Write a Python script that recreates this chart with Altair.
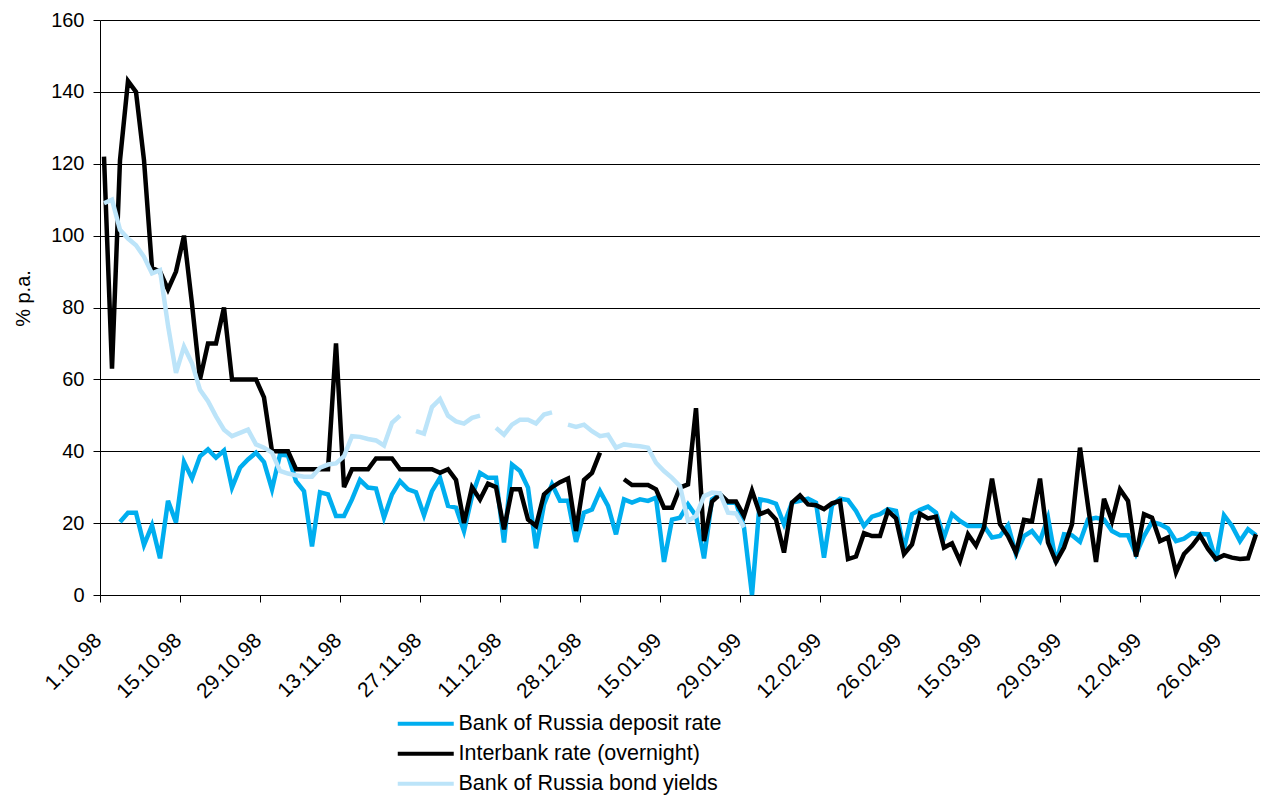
import json
import altair as alt
import pandas as pd

# x-axis tick labels (one every 10 trading days)
x_labels = ["1.10.98", "15.10.98", "29.10.98", "13.11.98", "27.11.98", "11.12.98",
            "28.12.98", "15.01.99", "29.01.99", "12.02.99", "26.02.99", "15.03.99",
            "29.03.99", "12.04.99", "26.04.99"]

series_names = ["Bank of Russia deposit rate", "Interbank rate (overnight)", "Bank of Russia bond yields"]
series_colors = ["#00AEEF", "#000000", "#BCE4F9"]

# % p.a., one value per trading day (index 0 = 1.10.98)
deposit_rate = [
    None, None, 20.3, 22.9, 22.9, 13.9, 19.4, 10.2, 26.2, 20.2,
    37.0, 32.4, 38.6, 40.5, 38.2, 40.2, 29.9, 35.4, 37.7, 39.6,
    37.0, 29.4, 39.1, 38.8, 31.7, 28.9, 13.5, 28.6, 28.0, 22.0,
    22.0, 26.6, 32.0, 29.9, 29.6, 21.5, 28.0, 31.7, 29.4, 28.6,
    22.2, 28.9, 32.6, 24.8, 24.3, 17.8, 27.5, 34.0, 32.6, 32.6,
    14.6, 36.3, 34.5, 29.9, 13.0, 25.2, 30.8, 26.2, 26.2, 14.8,
    22.9, 23.8, 28.9, 24.8, 16.9, 26.6, 25.7, 26.6, 26.2, 27.1,
    9.2, 21.0, 21.5, 25.2, 22.0, 10.2, 26.6, 28.0, 25.7, 25.7,
    18.8, 0.0, 26.6, 26.2, 25.4, 19.7, 25.7, 26.2, 26.8, 25.7,
    10.4, 25.0, 26.8, 26.4, 23.4, 19.2, 21.8, 22.5, 23.9, 23.4,
    12.8, 22.5, 23.7, 24.6, 22.9, 16.0, 22.5, 20.6, 19.2, 19.2,
    19.2, 16.0, 16.4, 19.4, 11.4, 16.4, 17.8, 15.0, 21.5, 9.0,
    16.9, 16.6, 14.8, 21.0, 21.5, 21.0, 17.8, 16.6, 16.6, 11.4,
    16.4, 20.3, 19.7, 18.5, 15.0, 15.7, 17.2, 16.9, 16.9, 9.5,
    22.2, 19.2, 15.0, 18.3, 16.6,
]

interbank_rate = [
    122, 63, 121, 143, 140, 121, 91, 90, 85, 90,
    100, 81, 60, 70, 70, 80, 60, 60, 60, 60,
    55, 40, 40, 40, 35, 35, 35, 35, 35, 70,
    30, 35, 35, 35, 38, 38, 38, 35, 35, 35,
    35, 35, 34, 35, 32, 20, 30, 26.6, 31, 30,
    18.3, 29.4, 29.4, 21, 19.2, 28, 30, 31.4, 32.4, 17.8,
    32, 34, 39.6, None, None, 32.2, 30.6, 30.6, 30.6, 29.4,
    24.3, 24.3, 29.9, 30.8, 52, 15, 26, 28, 26, 26,
    22, 29, 22.5, 23.4, 21, 11.8, 25.7, 27.7, 25.2, 25,
    23.9, 25.5, 26.2, 10, 10.7, 17.2, 16.4, 16.4, 23.4, 21.3,
    11.4, 14.1, 22.6, 21.3, 21.8, 13.2, 14.4, 9.5, 16.9, 13.7,
    18.8, 32.4, 19.7, 16.4, 11.8, 20.9, 20.5, 32.4, 14.6, 9.2,
    13.2, 19.7, 41, 24.8, 9.2, 26.8, 20.6, 29.4, 26.2, 10.7,
    22.5, 21.5, 15, 16, 6.3, 11.4, 13.7, 16.6, 12.8, 10,
    11.1, 10.4, 10, 10.2, 16.9,
]

bond_yields = [
    109, 110, 101.6, 99.2, 97.3, 94.1, 89.5, 90.4, 75, 61.8,
    69.1, 64.5, 57.1, 53.9, 49.7, 46, 44.2, 45.1, 46, 41.9,
    41, 39.6, 34.5, 33.8, 33.3, 32.9, 32.9, 35.4, 36.3, 36.6,
    38.6, 44.2, 44, 43.4, 43, 41.6, 47.9, 49.9, None, 45.6,
    44.9, 52.3, 54.5, 49.9, 48.3, 47.7, 49.3, 49.9, None, 46.5,
    44.6, 47.4, 48.8, 48.8, 47.7, 50.2, 50.8, None, 47.4, 46.8,
    47.4, 45.6, 44.2, 44.6, 41, 41.9, 41.6, 41.4, 41, 36.8,
    34.5, 32.6, 30.3, 20.6, 22, 27.5, 28.5, 28.3, 22.9, 22.7,
    18.8,
]

rows = []
for name, vals in zip(series_names, [deposit_rate, interbank_rate, bond_yields]):
    for i, v in enumerate(vals):
        rows.append({"day": i, "rate": v, "series": name})
df = pd.DataFrame(rows)

FONT = "Liberation Sans"
tick_vals = [k * 10 - 0.5 for k in range(len(x_labels))]
label_expr = json.dumps(x_labels) + "[round((datum.value + 0.5) / 10)]"

x_enc = alt.X(
    "day:Q",
    scale=alt.Scale(domain=[-0.5, 144.5], nice=False, zero=False),
    axis=alt.Axis(
        values=tick_vals, labelExpr=label_expr, grid=False, title=None,
        labelAngle=315, labelAlign="right", labelBaseline="middle",
        labelPadding=35, labelOffset=-2, tickSize=7, labelFontSize=21,
        labelOverlap=False, domainColor="black", tickColor="black",
        labelColor="black", labelFont=FONT,
    ),
)
y_enc = alt.Y(
    "rate:Q",
    scale=alt.Scale(domain=[0, 160], nice=False),
    axis=alt.Axis(
        values=list(range(0, 161, 20)), title="% p.a.", titleFontSize=20,
        titleFont=FONT, titleFontWeight="normal", titleColor="black",
        titleX=-67, titleY=278, titleAngle=270, titleAlign="center",
        titleBaseline="bottom", labelFontSize=20, labelFont=FONT,
        labelColor="black", labelPadding=9, tickSize=7, grid=True,
        gridColor="black", gridWidth=1, domainColor="black", tickColor="black",
    ),
)
color_enc = alt.Color(
    "series:N",
    scale=alt.Scale(domain=series_names, range=series_colors),
    legend=alt.Legend(
        title=None, orient="none", legendX=291, legendY=693, direction="vertical",
        symbolType="M-1,0H13", symbolSize=64, symbolStrokeWidth=4,
        labelFontSize=21.5, labelFont=FONT, labelColor="black", labelOffset=46,
        rowPadding=7, padding=0, symbolOpacity=1, labelLimit=500,
    ),
)

base = alt.Chart(df)
layers = []
for name in series_names:
    layers.append(
        base.transform_filter(alt.datum.series == name)
        .mark_line(strokeWidth=4.5, invalid="break-paths-show-domains")
        .encode(x=x_enc, y=y_enc, color=color_enc)
    )

chart = (
    alt.layer(*layers)
    .properties(
        width=1160, height=575,
        autosize=alt.AutoSizeParams(type="none"),
        padding={"left": 92, "top": 12, "right": 0, "bottom": 204},
        background="white",
    )
    .configure_view(stroke=None)
)

chart.save("out.html", embed_options={"renderer": "svg", "actions": False})
